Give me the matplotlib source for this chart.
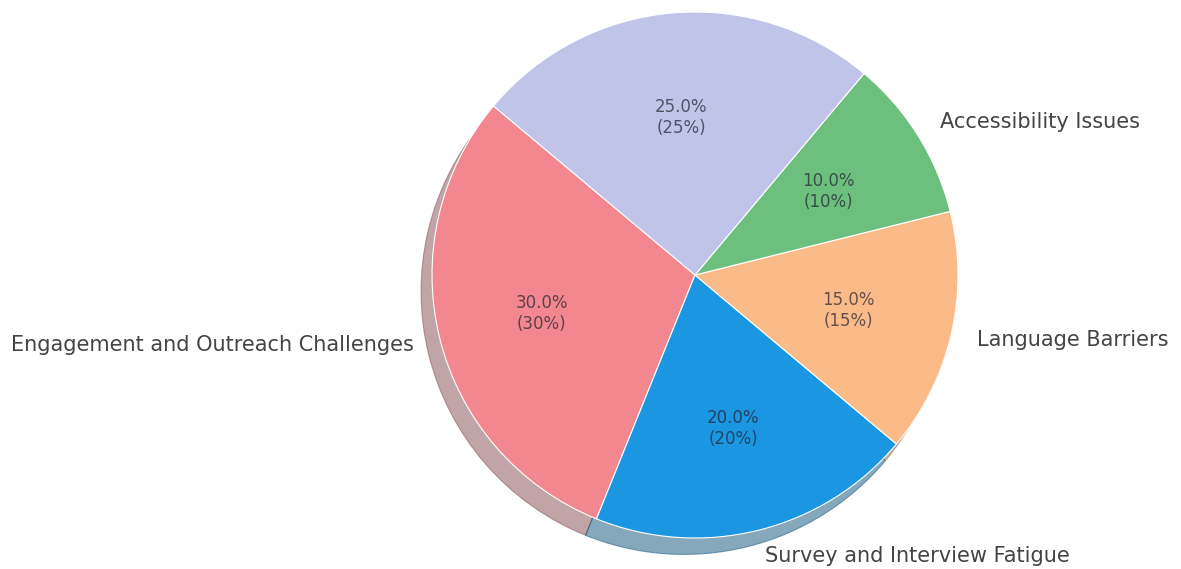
import numpy as np
import matplotlib.pyplot as plt

# slice data, counter-clockwise from startangle
labels = ['Engagement and Outreach Challenges', 'Survey and Interview Fatigue',
          'Language Barriers', 'Accessibility Issues', '']
sizes = [30, 20, 15, 10, 25]
colors = ['#f2878f', '#1b96e0', '#fbbb88', '#6cbf7c', '#c0c4e8']

fig = plt.figure(figsize=(11.81, 5.69), dpi=100)
# pie of radius 1 -> about 263 px, centred at (695, 275) px from top-left
r_px = 263
cx, cy = 695, 275
lim = 1.05
w = 2 * lim * r_px
ax = fig.add_axes([(cx - w / 2) / 1181, ((569 - cy) - w / 2) / 569, w / 1181, w / 569])


def fmt(p):
    return '%.1f%%\n(%d%%)' % (p, int(round(p)))


wedges, texts, autotexts = ax.pie(sizes, labels=labels, colors=colors, autopct=fmt,
                                  startangle=140, shadow={'ox': -0.03, 'oy': -0.045, 'shade': 0.45},
                                  wedgeprops={'edgecolor': 'white', 'linewidth': 0.8},
                                  textprops={'fontsize': 15, 'color': '#444444'})
for t in autotexts:
    t.set_fontsize(12)
    t.set_color('#222233')
    t.set_alpha(0.7)

ax.set_xlim(-lim, lim)
ax.set_ylim(-lim, lim)
ax.set_aspect('equal')
ax.axis('off')

fig.savefig('out.png', dpi=100)
